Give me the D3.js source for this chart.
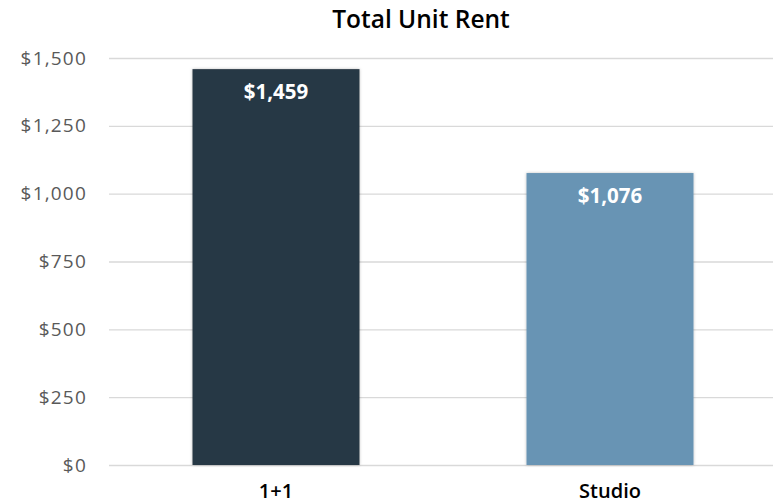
<!DOCTYPE html>
<html><head><meta charset="utf-8">
<script src="https://cdn.jsdelivr.net/npm/d3@7"></script>
<style>body{margin:0;background:#fff}</style>
</head><body>
<svg id="c" width="773" height="503"></svg>
<script>
const categories = ["1+1", "Studio"];
const values = [1459, 1076];
const colors = ["#283845", "#6894b4"];
const ticks = [0, 250, 500, 750, 1000, 1250, 1500];

const svg = d3.select("#c");
const defs = svg.append("defs");
const f = defs.append("filter").attr("id","sh").attr("x","-10%").attr("y","-10%").attr("width","120%").attr("height","120%");
f.append("feDropShadow").attr("dx",0).attr("dy",0).attr("stdDeviation",1.5).attr("flood-color","#000").attr("flood-opacity",0.25);

const x = d3.scaleBand().domain(categories).range([109, 777]).paddingInner(0.5).paddingOuter(0.25);
const y = d3.scaleLinear().domain([0, 1500]).range([465, 58]);
const fmt = v => "$" + d3.format(",")(v);
const FONT = "'Open Sans', 'Noto Sans', sans-serif";

svg.append("text").attr("x", 421).attr("y", 28).attr("text-anchor","middle")
  .attr("font-family",FONT).attr("font-weight",600).attr("font-size",24.5).attr("fill","#000")
  .text("Total Unit Rent");

const yAxis = d3.axisLeft(y).tickValues(ticks).tickFormat(fmt).tickSize(-(773-109)).tickPadding(22);
const ga = svg.append("g").attr("transform","translate(109,0)").call(yAxis);
ga.select(".domain").remove();
ga.selectAll(".tick line").attr("stroke","#d9d9d9").attr("stroke-width",1.3);
ga.selectAll(".tick text").attr("font-family",FONT).attr("font-size",19).attr("letter-spacing",1.2).attr("fill","#595959");

svg.selectAll("rect.bar").data(values).enter().append("rect").attr("class","bar")
  .attr("x",(d,i)=>x(categories[i])).attr("width",x.bandwidth())
  .attr("y",d=>y(d)).attr("height",d=>y(0)-y(d))
  .attr("fill",(d,i)=>colors[i]).attr("filter","url(#sh)");

svg.selectAll("text.lbl").data(values).enter().append("text").attr("class","lbl")
  .attr("x",(d,i)=>x(categories[i])+x.bandwidth()/2).attr("y",d=>y(d)+29.5)
  .attr("text-anchor","middle").attr("font-family",FONT).attr("font-weight","bold")
  .attr("font-size",20.5).attr("fill","#fff").text(fmt);

const xAxis = d3.axisBottom(x).tickSize(0).tickPadding(0);
const gx = svg.append("g").attr("transform","translate(0,465)").call(xAxis);
gx.select(".domain").remove();
gx.selectAll(".tick text").attr("dy",null).attr("y",33).attr("font-family",FONT).attr("font-weight",600).attr("font-size",20).attr("fill","#000");
</script>
</body></html>
